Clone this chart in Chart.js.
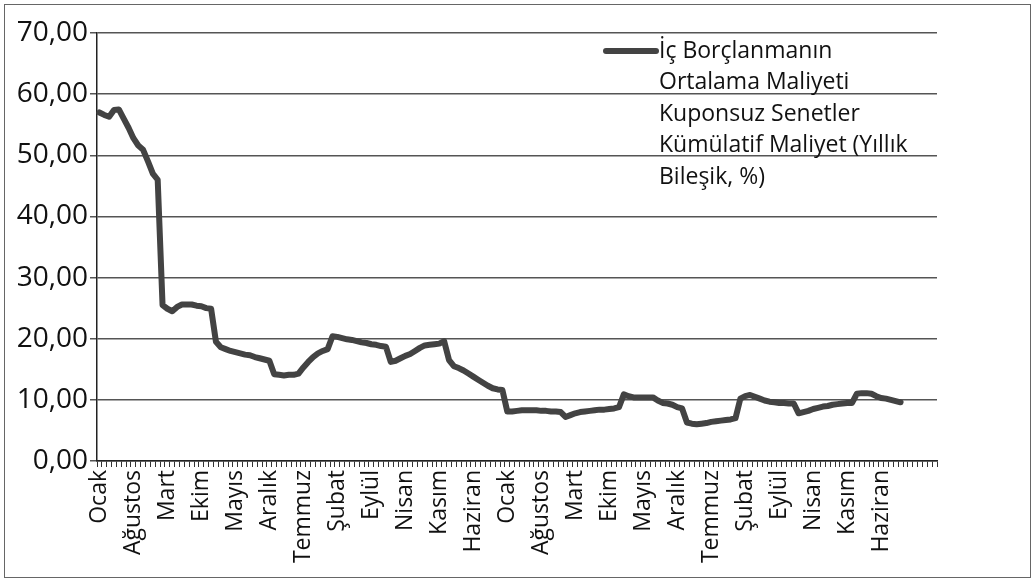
<!DOCTYPE html>
<html>
<head>
<meta charset="utf-8">
<script src="https://cdn.jsdelivr.net/npm/chart.js@4/dist/chart.umd.min.js"></script>
<style>
  html, body { margin: 0; padding: 0; background: #fff; }
  #wrap { position: relative; width: 1034px; height: 582px; }
  #frame { position: absolute; left: 4px; top: 4px; width: 1025px; height: 572px; border: 1.5px solid #666; pointer-events: none; }
</style>
</head>
<body>
<div id="wrap">
  <canvas id="canvas" width="1034" height="582"></canvas>
  <div id="frame"></div>
</div>
<script>
// ay adlari, aylik seri (Ocak'tan baslar)
const ayAdlari = ['Ocak', 'Şubat', 'Mart', 'Nisan', 'Mayıs', 'Haziran', 'Temmuz', 'Ağustos', 'Eylül', 'Ekim', 'Kasım', 'Aralık'];
const ayAdedi = 173;   // eksende yer alan kategori sayisi (sondakiler bos)
const etiketAraligi = 7;

const ortalamaMaliyet = [
  57.0, 56.6, 56.3, 57.4, 57.5, 56.0, 54.5, 52.8, 51.6, 50.9,
  49.0, 47.0, 46.0, 25.5, 24.9, 24.5, 25.2, 25.6, 25.6, 25.6,
  25.4, 25.3, 25.0, 24.9, 19.5, 18.6, 18.3, 18.0, 17.8, 17.6,
  17.4, 17.3, 17.0, 16.8, 16.6, 16.4, 14.2, 14.1, 14.0, 14.1,
  14.1, 14.3, 15.3, 16.2, 17.0, 17.6, 18.0, 18.3, 20.4, 20.3,
  20.1, 19.9, 19.8, 19.6, 19.4, 19.3, 19.1, 19.0, 18.8, 18.7,
  16.2, 16.4, 16.8, 17.2, 17.5, 18.0, 18.5, 18.9, 19.0, 19.1,
  19.2, 19.6, 16.5, 15.5, 15.2, 14.8, 14.3, 13.8, 13.3, 12.8,
  12.3, 11.9, 11.7, 11.6, 8.1, 8.1, 8.2, 8.3, 8.3, 8.3,
  8.3, 8.2, 8.2, 8.1, 8.1, 8.0, 7.2, 7.5, 7.8, 8.0,
  8.1, 8.2, 8.3, 8.4, 8.4, 8.5, 8.6, 8.8, 10.9, 10.6,
  10.4, 10.4, 10.4, 10.4, 10.4, 9.9, 9.5, 9.4, 9.2, 8.8,
  8.6, 6.3, 6.1, 6.0, 6.1, 6.2, 6.4, 6.5, 6.6, 6.7,
  6.8, 7.0, 10.2, 10.6, 10.8, 10.5, 10.2, 9.9, 9.7, 9.6,
  9.5, 9.5, 9.4, 9.4, 7.8, 8.0, 8.2, 8.5, 8.7, 8.9,
  9.0, 9.2, 9.3, 9.4, 9.5, 9.5, 11.0, 11.1, 11.1, 11.0,
  10.6, 10.3, 10.2, 10.0, 9.8, 9.6
];

const kategoriler = [];
for (let i = 0; i < ayAdedi; i++) {
  kategoriler.push(i < ortalamaMaliyet.length ? ayAdlari[i % 12] : '');
}

const yMin = 0, yMax = 70, yAdim = 10;

const legendSatirlari = ['İç Borçlanmanın', 'Ortalama Maliyeti', 'Kuponsuz Senetler', 'Kümülatif Maliyet (Yıllık', 'Bileşik, %)'];

const cizgiRengi = '#434343';

const legendPlugin = {
  id: 'legendIci',
  afterDraw(chart) {
    const ctx = chart.ctx;
    ctx.save();
    ctx.strokeStyle = cizgiRengi;
    ctx.lineWidth = 6;
    ctx.lineCap = 'round';
    ctx.beginPath();
    ctx.moveTo(606, 51);
    ctx.lineTo(656, 51);
    ctx.stroke();
    ctx.fillStyle = '#111';
    ctx.font = '23px "Open Sans"';
    ctx.textBaseline = 'middle';
    legendSatirlari.forEach(function(s, i) {
      ctx.fillText(s, 659, 51 + i * 31.5);
    });
    ctx.restore();
  }
};

window.onload = function() {
  const ctx = document.getElementById('canvas').getContext('2d');
  window.grafik = new Chart(ctx, {
    type: 'line',
    data: {
      labels: kategoriler,
      datasets: [{
        label: legendSatirlari.join(' '),
        data: ortalamaMaliyet,
        borderColor: cizgiRengi,
        borderWidth: 6,
        borderJoinStyle: 'round',
        borderCapStyle: 'round',
        pointRadius: 0,
        tension: 0,
        fill: false
      }]
    },
    options: {
      responsive: false,
      animation: false,
      layout: { padding: { left: 0, right: 97, top: 33, bottom: 0 } },
      plugins: {
        legend: { display: false },
        tooltip: { enabled: false }
      },
      scales: {
        x: {
          type: 'category',
          offset: true,
          grid: { drawOnChartArea: false, drawTicks: true, tickLength: 6, offset: true, color: '#333', lineWidth: 1 },
          border: { display: true, color: '#222', width: 1.5 },
          ticks: {
            autoSkip: false,
            minRotation: 90,
            maxRotation: 90,
            padding: 3,
            color: '#111',
            font: { family: 'Open Sans', size: 23 },
            callback: function(v, i) { return i % etiketAraligi === 0 ? this.getLabelForValue(v) : ''; }
          },
          afterFit: function(s) { s.height = 121; }
        },
        y: {
          min: yMin,
          max: yMax,
          grid: { color: '#555', lineWidth: 1.5, tickLength: 7 },
          border: { display: true, color: '#222', width: 1.5 },
          ticks: {
            stepSize: yAdim,
            padding: 2,
            color: '#111',
            font: { family: 'Open Sans', size: 28 },
            callback: function(v) { return v.toFixed(2).replace('.', ','); }
          },
          afterFit: function(s) { s.width = 97; }
        }
      }
    },
    plugins: [legendPlugin]
  });
};
</script>
</body>
</html>
